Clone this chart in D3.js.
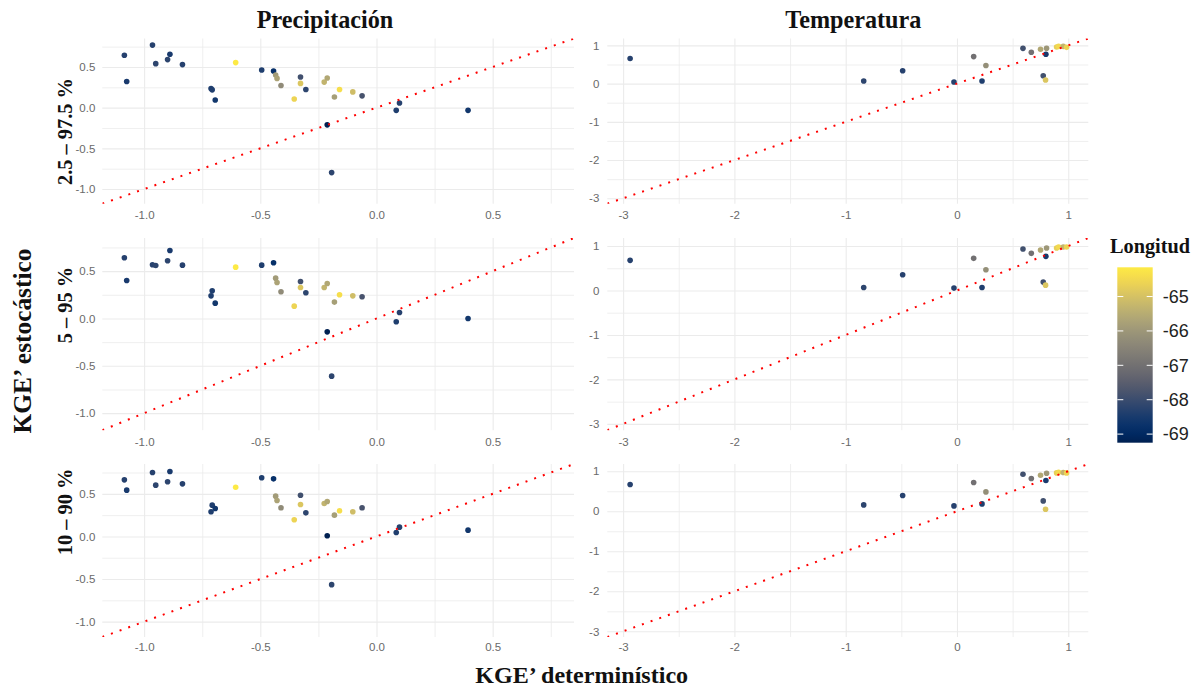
<!DOCTYPE html>
<html>
<head>
<meta charset="utf-8">
<script src="https://cdnjs.cloudflare.com/ajax/libs/d3/7.8.5/d3.min.js"></script>
<style>
  html, body { margin: 0; padding: 0; background: #ffffff; }
  svg { display: block; }
</style>
</head>
<body>
<svg id="chart" width="1200" height="688"></svg>
<script>
// ---- Data -------------------------------------------------------------
const colTitles = ["Precipitación", "Temperatura"];
const rowLabels = ["2.5 – 97.5 %", "5 – 95 %", "10 – 90 %"];
const xAxisTitle = "KGE’ determinístico";
const yAxisTitle = "KGE’ estocástico";
const legendTitle = "Longitud";
const lonTicks = [-69, -68, -67, -66, -65];

// Precipitation stations: deterministic KGE' and stochastic KGE' per interval
const precipX = [-1.085, -1.075, -0.964, -0.950, -0.899, -0.889, -0.835, -0.712, -0.707, -0.694,
                 -0.606, -0.494, -0.443, -0.434, -0.428, -0.411, -0.354, -0.327, -0.327, -0.304,
                 -0.225, -0.212, -0.212, -0.193, -0.181, -0.159, -0.102, -0.062, 0.085, 0.099, 0.394];
const precipY25 = [0.645, 0.322, 0.769, 0.541, 0.591, 0.657, 0.529, 0.236, 0.219, 0.095,
                   0.554, 0.463, 0.450, 0.401, 0.360, 0.273, 0.107, 0.376, 0.298, 0.223,
                   0.314, 0.364, -0.211, -0.798, 0.132, 0.223, 0.194, 0.145, -0.033, 0.058, -0.033];
const precipY5 = [0.641, 0.401, 0.567, 0.560, 0.609, 0.718, 0.563, 0.239, 0.292, 0.162,
                  0.542, 0.563, 0.588, 0.426, 0.380, 0.282, 0.130, 0.391, 0.327, 0.271,
                  0.327, 0.370, -0.141, -0.609, 0.173, 0.250, 0.239, 0.229, -0.035, 0.063, 0.000];
const precipY10 = [0.664, 0.543, 0.750, 0.602, 0.641, 0.762, 0.617, 0.289, 0.367, 0.328,
                   0.578, 0.688, 0.676, 0.473, 0.422, 0.336, 0.195, 0.484, 0.375, 0.277,
                   0.387, 0.410, 0.008, -0.566, 0.250, 0.301, 0.289, 0.336, 0.047, 0.109, 0.074];
const precipLon = [-68.3, -68.5, -68.3, -68.2, -68.2, -68.5, -68.3, -68.4, -68.4, -68.6,
                   -64.15, -68.4, -68.8, -65.9, -65.7, -66.3, -64.6, -67.9, -64.9, -68.2,
                   -65.3, -65.6, -69.25, -68.2, -65.8, -64.4, -65.1, -67.8, -68.4, -68.3, -68.6];

// Temperature stations
const tempX = [-2.937, -0.838, -0.488, -0.027, 0.150, 0.225, 0.260, 0.593, 0.668,
               0.751, 0.775, 0.799, 0.805, 0.796, 0.895, 0.913, 0.955, 0.985];
const tempY25 = [0.655, 0.069, 0.336, 0.043, 0.707, 0.069, 0.474, 0.922, 0.819,
                 0.897, 0.207, 0.767, 0.922, 0.095, 0.957, 0.974, 0.974, 0.948];
const tempY5 = [0.677, 0.068, 0.353, 0.053, 0.722, 0.068, 0.466, 0.932, 0.835,
                0.910, 0.188, 0.767, 0.955, 0.120, 0.955, 0.977, 0.977, 0.977];
const tempY10 = [0.667, 0.158, 0.392, 0.133, 0.717, 0.183, 0.483, 0.925, 0.817,
                 0.900, 0.258, 0.767, 0.950, 0.050, 0.958, 0.975, 0.967, 0.958];
const tempLon = [-68.3, -68.2, -68.3, -68.3, -67.0, -68.4, -66.2, -67.9, -67.0,
                 -65.6, -67.9, -68.5, -66.0, -64.9, -64.7, -64.5, -65.3, -64.6];

const precipTicks = [-1, -0.5, 0, 0.5];
const precipMinor = [-0.75, -0.25, 0.25, 0.75];
const tempTicks = [-3, -2, -1, 0, 1];
const tempMinor = [-2.5, -1.5, -0.5, 0.5];

// ---- Layout -----------------------------------------------------------
const svg = d3.select("#chart");
const locale = d3.formatLocale({decimal: ".", thousands: ",", grouping: [3], currency: ["", ""], minus: "-"});
const serif = "'Liberation Serif', 'Times New Roman', serif";
const sans = "'Liberation Sans', Arial, sans-serif";

const columns = [
  {x0: 102.3, x1: 574, domain: [-1.18, 0.85], ticks: precipTicks, minor: precipMinor,
   fmt: locale.format(".1f"), xs: precipX, ys: [precipY25, precipY5, precipY10], lon: precipLon, labelPad: 7},
  {x0: 607.3, x1: 1088.3, domain: [-3.142, 1.18], ticks: tempTicks, minor: tempMinor,
   fmt: locale.format("d"), xs: tempX, ys: [tempY25, tempY5, tempY10], lon: tempLon, labelPad: 8}
];
const rows = [
  {y0: 38.5, y1: 203.7, xPad: 7},
  {y0: 238, y1: 430.2, xPad: 7.5},
  {y0: 464, y1: 637, xPad: 6}
];

const allLon = precipLon.concat(tempLon);
const color = d3.scaleSequential(d3.interpolateCividis).domain(d3.extent(allLon));

const defs = svg.append("defs");
const gridColor = "#ebebeb";

rows.forEach((row, ri) => {
  columns.forEach((col, ci) => {
    const x = d3.scaleLinear().domain(col.domain).range([col.x0, col.x1]);
    const y = d3.scaleLinear().domain(col.domain).range([row.y1, row.y0]);
    const w = col.x1 - col.x0, h = row.y1 - row.y0;
    const g = svg.append("g").attr("class", `panel r${ri} c${ci}`);

    // minor grid
    g.append("g").attr("transform", `translate(0,${row.y1})`)
      .call(d3.axisBottom(x).tickValues(col.minor).tickSize(-h).tickFormat(""))
      .call(a => a.select(".domain").remove())
      .call(a => a.selectAll("line").attr("stroke", gridColor).attr("stroke-width", 0.8));
    g.append("g").attr("transform", `translate(${col.x0},0)`)
      .call(d3.axisLeft(y).tickValues(col.minor).tickSize(-w).tickFormat(""))
      .call(a => a.select(".domain").remove())
      .call(a => a.selectAll("line").attr("stroke", gridColor).attr("stroke-width", 0.8));

    // major grid
    g.append("g").attr("transform", `translate(0,${row.y1})`)
      .call(d3.axisBottom(x).tickValues(col.ticks).tickSize(-h).tickFormat(""))
      .call(a => a.select(".domain").remove())
      .call(a => a.selectAll("line").attr("stroke", gridColor).attr("stroke-width", 1.1));
    g.append("g").attr("transform", `translate(${col.x0},0)`)
      .call(d3.axisLeft(y).tickValues(col.ticks).tickSize(-w).tickFormat(""))
      .call(a => a.select(".domain").remove())
      .call(a => a.selectAll("line").attr("stroke", gridColor).attr("stroke-width", 1.1));

    // tick labels
    g.append("g").attr("transform", `translate(0,${row.y1})`)
      .call(d3.axisBottom(x).tickValues(col.ticks).tickSize(0).tickPadding(row.xPad).tickFormat(col.fmt))
      .call(a => a.select(".domain").remove())
      .call(a => a.selectAll("text").attr("fill", "#6a6a6a").attr("font-size", 11.5).attr("font-family", sans));
    g.append("g").attr("transform", `translate(${col.x0},0)`)
      .call(d3.axisLeft(y).tickValues(col.ticks).tickSize(0).tickPadding(col.labelPad).tickFormat(col.fmt))
      .call(a => a.select(".domain").remove())
      .call(a => a.selectAll("text").attr("fill", "#6a6a6a").attr("font-size", 11.5).attr("font-family", sans));

    // clip region
    const clipId = `clip-${ri}-${ci}`;
    defs.append("clipPath").attr("id", clipId)
      .append("rect").attr("x", col.x0).attr("y", row.y0).attr("width", w).attr("height", h);

    // points
    const pts = col.xs.map((v, i) => ({x: v, y: col.ys[ri][i], lon: col.lon[i]}));
    g.append("g").attr("clip-path", `url(#${clipId})`)
      .selectAll("circle").data(pts).join("circle")
      .attr("cx", d => x(d.x)).attr("cy", d => y(d.y)).attr("r", 2.8)
      .attr("fill", d => color(d.lon));

    // 1:1 reference line
    const line = d3.line().x(d => x(d)).y(d => y(d));
    g.append("path").attr("clip-path", `url(#${clipId})`)
      .datum(col.domain)
      .attr("d", line)
      .attr("fill", "none").attr("stroke", "#ff0000").attr("stroke-width", 2)
      .attr("stroke-dasharray", "2,7.2");
  });
});

// ---- Text -------------------------------------------------------------
function fitWidth(sel, target) {
  const len = sel.node().getComputedTextLength();
  const fs = parseFloat(sel.attr("font-size"));
  const nf = fs * target / len;
  sel.attr("font-size", nf);
  return nf;
}

// column titles
const t0 = svg.append("text").text(colTitles[0]).attr("x", 325).attr("y", 28)
  .attr("text-anchor", "middle").attr("font-family", serif).attr("font-weight", "bold")
  .attr("font-size", 20).attr("fill", "#111");
const titleSize = fitWidth(t0, 136.6);
svg.append("text").text(colTitles[1]).attr("x", 853.3).attr("y", 28)
  .attr("text-anchor", "middle").attr("font-family", serif).attr("font-weight", "bold")
  .attr("font-size", titleSize).attr("fill", "#111");

// row labels
const rowCenters = [131.5, 305, 512];
let rowSize = 18;
rowLabels.forEach((lab, i) => {
  const t = svg.append("text").text(lab)
    .attr("transform", `translate(71.5,${rowCenters[i]}) rotate(-90)`)
    .attr("text-anchor", "middle").attr("font-family", serif).attr("font-weight", "bold")
    .attr("font-size", rowSize).attr("fill", "#111");
  if (i === 0) rowSize = fitWidth(t, 107);
});

// axis titles
const xt = svg.append("text").text(xAxisTitle).attr("x", 581.7).attr("y", 683)
  .attr("text-anchor", "middle").attr("font-family", serif).attr("font-weight", "bold")
  .attr("font-size", 22).attr("fill", "#111");
fitWidth(xt, 213);

const yt = svg.append("text").text(yAxisTitle)
  .attr("transform", "translate(31,341) rotate(-90)")
  .attr("text-anchor", "middle").attr("font-family", serif).attr("font-weight", "bold")
  .attr("font-size", 22).attr("fill", "#111");
fitWidth(yt, 185);

// ---- Colour legend ----------------------------------------------------
const lg = {x0: 1117.3, x1: 1152.7, y0: 267.3, y1: 442.7};
const ly = d3.scaleLinear().domain(color.domain()).range([lg.y1, lg.y0]);
const grad = defs.append("linearGradient").attr("id", "lonGrad")
  .attr("x1", 0).attr("y1", 1).attr("x2", 0).attr("y2", 0);
d3.range(0, 1.0001, 0.05).forEach(t => {
  grad.append("stop").attr("offset", t).attr("stop-color", d3.interpolateCividis(t));
});
svg.append("rect").attr("x", lg.x0).attr("y", lg.y0)
  .attr("width", lg.x1 - lg.x0).attr("height", lg.y1 - lg.y0)
  .attr("fill", "url(#lonGrad)");

const tickG = svg.append("g");
lonTicks.forEach(v => {
  tickG.append("line").attr("x1", lg.x0).attr("x2", lg.x0 + 6)
    .attr("y1", ly(v)).attr("y2", ly(v)).attr("stroke", "#fff").attr("stroke-width", 1);
  tickG.append("line").attr("x1", lg.x1 - 6).attr("x2", lg.x1)
    .attr("y1", ly(v)).attr("y2", ly(v)).attr("stroke", "#fff").attr("stroke-width", 1);
});
svg.append("g").attr("transform", `translate(${lg.x1},0)`)
  .call(d3.axisRight(ly).tickValues(lonTicks).tickSize(0).tickPadding(10).tickFormat(locale.format("d")))
  .call(a => a.select(".domain").remove())
  .call(a => a.selectAll("text").attr("fill", "#222").attr("font-size", 18).attr("font-family", sans));

const lt = svg.append("text").text(legendTitle).attr("x", 1150).attr("y", 252.7)
  .attr("text-anchor", "middle").attr("font-family", serif).attr("font-weight", "bold")
  .attr("font-size", 18).attr("fill", "#111");
fitWidth(lt, 80);
</script>
</body>
</html>
